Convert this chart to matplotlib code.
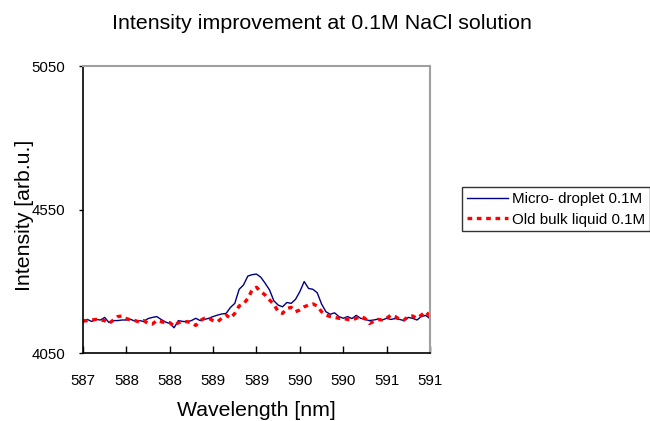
import numpy as np
import matplotlib
matplotlib.use("Agg")
import matplotlib.pyplot as plt

plt.rcParams['font.family'] = ['Liberation Sans', 'DejaVu Sans']

# wavelength grid [nm]
wavelength = [587.00, 587.05, 587.10, 587.15, 587.20, 587.25, 587.30, 587.35, 587.40, 587.45,
              587.50, 587.55, 587.60, 587.65, 587.70, 587.75, 587.80, 587.85, 587.90, 587.95,
              588.00, 588.05, 588.10, 588.15, 588.20, 588.25, 588.30, 588.35, 588.40, 588.45,
              588.50, 588.55, 588.60, 588.65, 588.70, 588.75, 588.80, 588.85, 588.90, 588.95,
              589.00, 589.05, 589.10, 589.15, 589.20, 589.25, 589.30, 589.35, 589.40, 589.45,
              589.50, 589.55, 589.60, 589.65, 589.70, 589.75, 589.80, 589.85, 589.90, 589.95,
              590.00, 590.05, 590.10, 590.15, 590.20, 590.25, 590.30, 590.35, 590.40, 590.45,
              590.50, 590.55, 590.60, 590.65, 590.70, 590.75, 590.80, 590.85, 590.90, 590.95,
              591.00]

# Micro-droplet 0.1M
micro = [4163, 4167, 4160, 4167, 4165, 4174, 4156, 4163, 4163, 4165,
         4165, 4167, 4161, 4163, 4160, 4170, 4174, 4177, 4167, 4158,
         4153, 4138, 4163, 4160, 4159, 4163, 4171, 4163, 4167, 4171,
         4177, 4182, 4186, 4188, 4209, 4223, 4272, 4287, 4318, 4323,
         4325, 4314, 4293, 4270, 4232, 4217, 4211, 4226, 4223, 4237,
         4264, 4299, 4275, 4272, 4260, 4221, 4194, 4185, 4190, 4177,
         4171, 4177, 4170, 4181, 4171, 4167, 4163, 4165, 4168, 4165,
         4171, 4167, 4170, 4167, 4163, 4174, 4171, 4165, 4177, 4181,
         4170]

# Old bulk liquid 0.1M
bulk = [4161, 4163, 4165, 4167, 4165, 4163, 4153, 4165, 4177, 4179,
        4170, 4165, 4163, 4158, 4163, 4153, 4151, 4163, 4159, 4156,
        4156, 4144, 4156, 4160, 4159, 4156, 4146, 4163, 4171, 4171,
        4163, 4159, 4171, 4182, 4171, 4188, 4214, 4221, 4240, 4270,
        4279, 4264, 4252, 4235, 4220, 4194, 4188, 4205, 4209, 4194,
        4200, 4211, 4217, 4221, 4214, 4194, 4182, 4177, 4174, 4171,
        4171, 4167, 4165, 4171, 4177, 4171, 4153, 4159, 4167, 4165,
        4171, 4182, 4177, 4167, 4165, 4177, 4179, 4171, 4182, 4194,
        4179]

x_ticks = [587.0, 587.5, 588.0, 588.5, 589.0, 589.5, 590.0, 590.5, 591.0]
x_ticklabels = ['587', '588', '588', '589', '589', '590', '590', '591', '591']
y_ticks = [4050, 4550, 5050]

fig = plt.figure(figsize=(6.5, 4.21), dpi=100)
ax = fig.add_axes([0.1277, 0.1615, 0.5338, 0.6817])

ax.plot(wavelength, micro, color='#000080', lw=1.0, label='Micro- droplet 0.1M')
ax.plot(wavelength, bulk, color='#FF0000', lw=2.4, dashes=(1.4, 1.4),
        label='Old bulk liquid 0.1M')

ax.set_xlim(587, 591)
ax.set_ylim(4050, 5050)
ax.set_xticks(x_ticks)
ax.set_xticklabels(x_ticklabels)
ax.set_yticks(y_ticks)
ax.tick_params(axis='x', direction='in', length=5, width=1, labelsize=10.8, pad=15)
ax.tick_params(axis='y', direction='out', length=3, width=1, labelsize=10.8, pad=10)

for s in ['top', 'right']:
    ax.spines[s].set_color('#A0A0A0')
    ax.spines[s].set_linewidth(1.5)
for s in ['left', 'bottom']:
    ax.spines[s].set_color('black')
    ax.spines[s].set_linewidth(1.2)

fig.text(0.496, 0.945, 'Intensity improvement at 0.1M NaCl solution',
         ha='center', va='center', fontsize=15.4)
fig.text(0.394, 0.026, 'Wavelength [nm]', ha='center', va='center', fontsize=15.3)
fig.text(0.037, 0.489, 'Intensity [arb.u.]', ha='center', va='center',
         rotation=90, fontsize=15.3)

leg = ax.legend(loc='upper left', bbox_to_anchor=(0.711, 0.555),
                bbox_transform=fig.transFigure, fontsize=10.9, frameon=True,
                fancybox=False, borderpad=0.3, handlelength=2.7,
                handletextpad=0.3, labelspacing=0.45, borderaxespad=0)
leg.get_frame().set_edgecolor('black')
leg.get_frame().set_linewidth(1.0)

fig.savefig('out.png', dpi=100)
